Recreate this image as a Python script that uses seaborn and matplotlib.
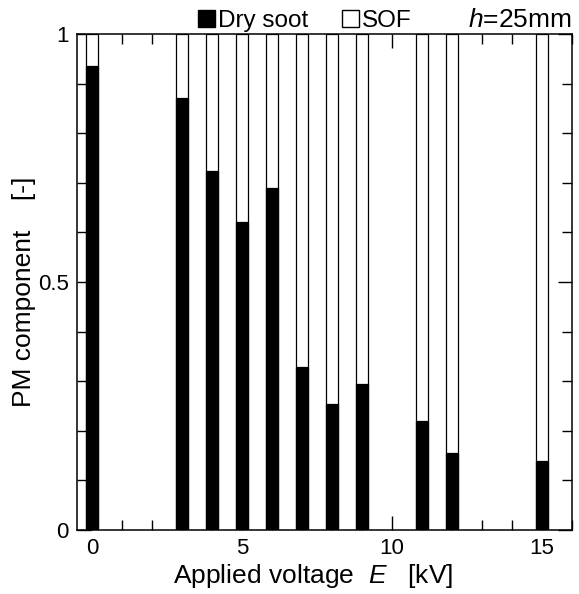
import matplotlib
matplotlib.use("Agg")
import matplotlib.pyplot as plt
from matplotlib.patches import Patch
from matplotlib.ticker import MultipleLocator
import numpy as np
import pandas as pd
import seaborn as sns

# Applied voltage [kV] and dry soot fraction of PM; the rest (to 1) is SOF
voltage = [0, 3, 4, 5, 6, 7, 8, 9, 11, 12, 15]
dry_soot = [0.936, 0.872, 0.724, 0.622, 0.689, 0.329, 0.254, 0.294, 0.220, 0.156, 0.140]
total = [1.0] * len(voltage)

df = pd.DataFrame({"E": voltage, "soot": dry_soot, "total": total})

sns.set_style("ticks")
plt.rcParams["font.family"] = ["Liberation Sans", "DejaVu Sans"]
plt.rcParams["mathtext.fontset"] = "custom"
plt.rcParams["mathtext.it"] = "Liberation Sans:italic"
plt.rcParams["mathtext.rm"] = "Liberation Sans"
for key in ("text.color", "axes.labelcolor", "xtick.color", "ytick.color",
            "axes.edgecolor"):
    plt.rcParams[key] = "black"

fig = plt.figure(figsize=(5.79, 5.94), dpi=100)
ax = fig.add_axes([0.133, 0.1077, 0.855, 0.835])

bw = 0.42
sns.barplot(data=df, x="E", y="total", native_scale=True, color="white",
            edgecolor="black", linewidth=0.9, width=bw, saturation=1, ax=ax)
sns.barplot(data=df, x="E", y="soot", native_scale=True, color="black",
            edgecolor="black", linewidth=0.9, width=bw, saturation=1, ax=ax)

ax.set_xlim(-0.5, 16)
ax.set_ylim(0, 1)
ax.set_xticks([0, 5, 10, 15])
ax.set_xticklabels(["0", "5", "10", "15"])
ax.set_yticks([0, 0.5, 1])
ax.set_yticklabels(["0", "0.5", "1"])
ax.xaxis.set_minor_locator(MultipleLocator(1))
ax.yaxis.set_minor_locator(MultipleLocator(0.1))
ax.tick_params(which="both", direction="in", top=True, right=True,
               labelsize=16, width=1, color="black", labelcolor="black")
ax.tick_params(which="major", length=10, pad=6)
ax.tick_params(which="minor", length=7)
for s in ax.spines.values():
    s.set_linewidth(1.1)
    s.set_color("black")

ax.set_xlabel("Applied voltage  $\\it{E}$   [kV]", fontsize=19, color="black")
ax.set_ylabel("PM component    [-]", fontsize=19, color="black")
ax.xaxis.set_label_coords(0.476, -0.064)
ax.yaxis.set_label_coords(-0.082, 0.48)

handles = [Patch(facecolor="black", edgecolor="black", label="Dry soot"),
           Patch(facecolor="white", edgecolor="black", label="SOF")]
leg = ax.legend(handles=handles, ncol=2, loc="lower left",
                bbox_to_anchor=(0.245, 1.004), frameon=False, fontsize=17.5,
                handlelength=0.7, handleheight=0.7, handletextpad=0.1,
                columnspacing=1.4, borderpad=0, borderaxespad=0)
for t in leg.get_texts():
    t.set_color("black")
ax.text(1.0, 1.004, "$\\it{h}$=25mm", transform=ax.transAxes,
        ha="right", va="bottom", fontsize=19, color="black")

fig.savefig("out.png", dpi=100)
